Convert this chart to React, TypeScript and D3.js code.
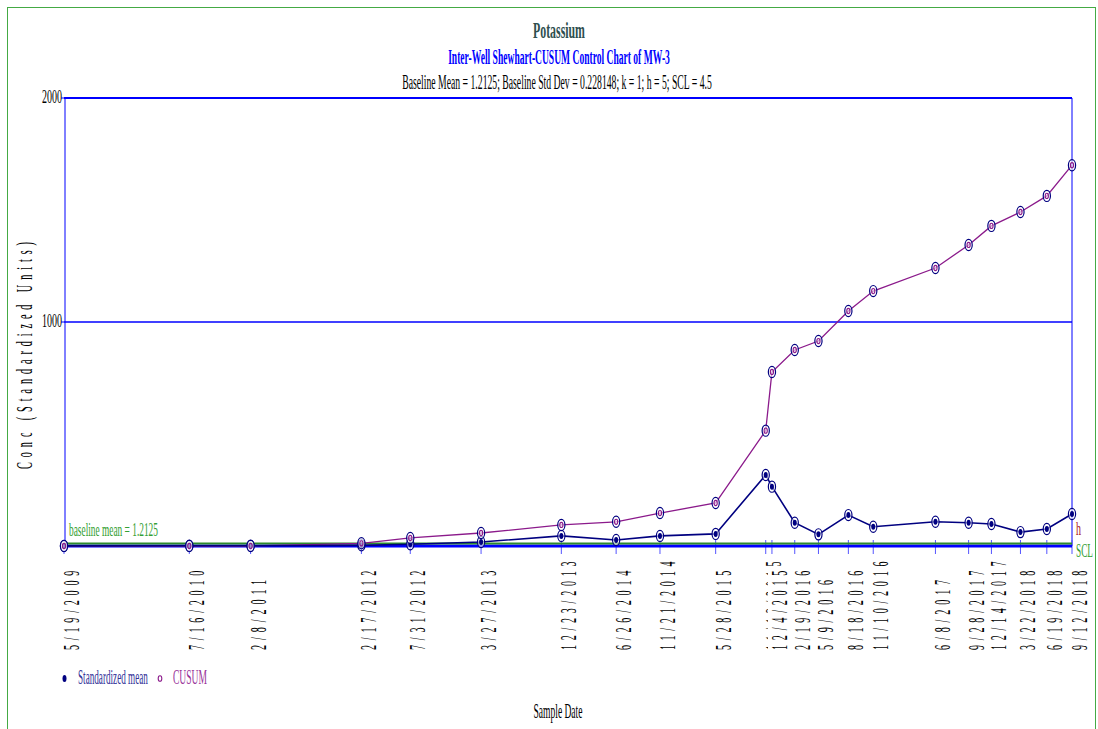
import React from "react";
import * as d3 from "d3";

const dates = ["5/19/2009","7/16/2010","2/8/2011","2/17/2012","7/31/2012","3/27/2013","12/23/2013","6/26/2014","11/21/2014","5/28/2015","11/13/2015","12/4/2015","2/19/2016","5/9/2016","8/18/2016","11/10/2016","6/8/2017","9/28/2017","12/14/2017","3/22/2018","6/19/2018","9/12/2018"];
const stdMean = [0.5, 1, 1, 3, 8, 18, 45, 27, 45, 54, 317, 265, 104, 52, 138, 86, 108, 104, 98, 62, 76, 143];
const cusum = [0, 0, 0, 12, 36, 58, 94, 108, 147, 192, 515, 777, 875, 915, 1049, 1138, 1241, 1344, 1429, 1491, 1563, 1700];
const yTicks = [1000, 2000];
const hValue = 5;
const sclValue = 4.5;

const parse = d3.timeParse("%m/%d/%Y");
const FONT = "'Liberation Serif', 'Times New Roman', serif";

let ctx: any = null;
function measure(text: string, size: number, weight: string) {
  if (!ctx) {
    const c = document.createElement("canvas");
    ctx = c.getContext("2d");
  }
  ctx.font = `${weight} ${size}px 'Liberation Serif', 'Times New Roman', serif`;
  return ctx.measureText(text).width;
}

function T(props: any) {
  const { x, y, text, size, len, anchor, fill, weight, spacing } = props;
  const w = weight || "normal";
  const sp = spacing || 0;
  const natural = measure(text, size, w) + sp * (text.length - 1);
  const sx = len / natural;
  return (
    <text
      transform={`translate(${x},${y}) scale(${sx},1)`}
      x={0}
      y={0}
      fontFamily={FONT}
      fontSize={size}
      fontWeight={w}
      textAnchor={anchor || "start"}
      fill={fill || "#000"}
      letterSpacing={sp}
    >
      {text}
    </text>
  );
}

export default function App() {
  const pts = dates.map((d, i) => ({ date: parse(d) as Date, label: d, m: stdMean[i], c: cusum[i] }));
  const x = d3.scaleTime().domain([pts[0].date, pts[pts.length - 1].date]).range([64, 1072]);
  const y = d3.scaleLinear().domain([0, 2000]).range([546, 98]);
  const [x0, x1] = x.range();

  const lineM = d3.line<any>().x((p) => x(p.date)).y((p) => y(p.m));
  const lineC = d3.line<any>().x((p) => x(p.date)).y((p) => y(p.c));

  const navy = "#000080";
  const purple = "#8b1a8b";
  const blue = "#0000ff";
  const green = "#2e8b2e";
  const pitch = 9.15;

  return (
    <svg width={1098} height={729} style={{ position: "absolute", left: 0, top: 0 }}>
      <rect x={0} y={0} width={1098} height={729} fill="#fff" />
      <rect x={7.5} y={7.5} width={1088} height={740} fill="none" stroke="#44aa44" strokeWidth={1} />

      {/* titles */}
      <T x={559} y={38} text="Potassium" size={24} weight="bold" len={52} anchor="middle" fill="#2f4f4f" />
      <T x={559} y={64} text="Inter-Well Shewhart-CUSUM Control Chart of MW-3" size={21} weight="bold" len={222} anchor="middle" fill={blue} />
      <T x={557} y={89} text="Baseline Mean = 1.2125; Baseline Std Dev = 0.228148; k = 1; h = 5; SCL = 4.5" size={20} len={310} anchor="middle" />

      {/* frame and grid */}
      {yTicks.map((v) => (
        <g key={v}>
          <line x1={x0} x2={x1} y1={y(v)} y2={y(v)} stroke={blue} strokeWidth={v === 2000 ? 2.2 : 1.6} />
          <line x1={x0 - 3} x2={x0} y1={y(v)} y2={y(v)} stroke={blue} strokeWidth={1} />
          <T x={x0 - 2} y={y(v) + 5} text={String(v)} size={19} len={20} anchor="end" />
        </g>
      ))}
      <line x1={x0 + 1} x2={x0 + 1} y1={y(2000)} y2={y(0)} stroke={blue} strokeWidth={1} />
      <line x1={x1} x2={x1} y1={y(2000)} y2={y(0)} stroke={blue} strokeWidth={1} />

      {/* x ticks */}
      {pts.map((p, i) => (
        <line key={"t" + i} x1={x(p.date)} x2={x(p.date)} y1={y(0) - 6} y2={y(0) + 8} stroke="#5555ff" strokeWidth={1} />
      ))}

      {/* baseline / h / SCL lines */}
      <line x1={x0} x2={x1} y1={y(0)} y2={y(0)} stroke={blue} strokeWidth={3} />
      <line x1={x0} x2={x1} y1={y(hValue) - 1.5} y2={y(hValue) - 1.5} stroke={green} strokeWidth={2} />
      <T x={69} y={536} text="baseline mean = 1.2125" size={19} len={89} fill="#33a033" />
      <T x={1076} y={535} text="h" size={19} len={5} fill="#aa2222" />
      <T x={1076} y={y(sclValue) + 12} text="SCL" size={19} len={17} fill="#33a033" />

      {/* series */}
      <path d={lineC(pts) || ""} fill="none" stroke={purple} strokeWidth={1.3} />
      <path d={lineM(pts) || ""} fill="none" stroke={navy} strokeWidth={1.6} />
      {pts.map((p, i) => (
        <g key={"m" + i}>
          <ellipse cx={x(p.date)} cy={y(p.m)} rx={3.6} ry={5.6} fill="#fff" fillOpacity={0.6} stroke={navy} strokeWidth={1.2} />
          <ellipse cx={x(p.date)} cy={y(p.m)} rx={2} ry={3} fill={navy} />
        </g>
      ))}
      {pts.map((p, i) => (
        <g key={"c" + i}>
          <ellipse cx={x(p.date)} cy={y(p.c)} rx={3.6} ry={5.6} fill="#fff" fillOpacity={0.6} stroke={navy} strokeWidth={1.2} />
          <ellipse cx={x(p.date)} cy={y(p.c)} rx={1.6} ry={2.6} fill="none" stroke={purple} strokeWidth={1.1} />
        </g>
      ))}

      {/* x labels */}
      {pts.map((p, i) => {
        const n = p.label.length;
        const len = n * pitch - 3;
        const tx = x(p.date) + 15;
        return (
          <g key={"l" + i} transform={`translate(${tx},650) rotate(-90)`}>
            <rect x={-1} y={-19} width={len + 2} height={22} fill="#fff" />
            <T x={0} y={0} text={p.label} size={23} len={len} spacing={11} />
          </g>
        );
      })}

      {/* y axis title */}
      <g transform="translate(32,353) rotate(-90)">
        <T x={0} y={0} text="Conc (Standardized Units)" size={23} len={227} anchor="middle" spacing={11} />
      </g>

      {/* x axis title */}
      <T x={558} y={718} text="Sample Date" size={21} len={49} anchor="middle" />

      {/* legend */}
      <ellipse cx={64.5} cy={678.5} rx={2} ry={3.5} fill={navy} />
      <T x={78} y={684} text="Standardized mean" size={20} len={70} fill="#333399" />
      <ellipse cx={160} cy={678.5} rx={1.8} ry={2.8} fill="none" stroke={purple} strokeWidth={1.1} />
      <T x={173} y={684} text="CUSUM" size={20} len={34} fill="#993399" />
    </svg>
  );
}
